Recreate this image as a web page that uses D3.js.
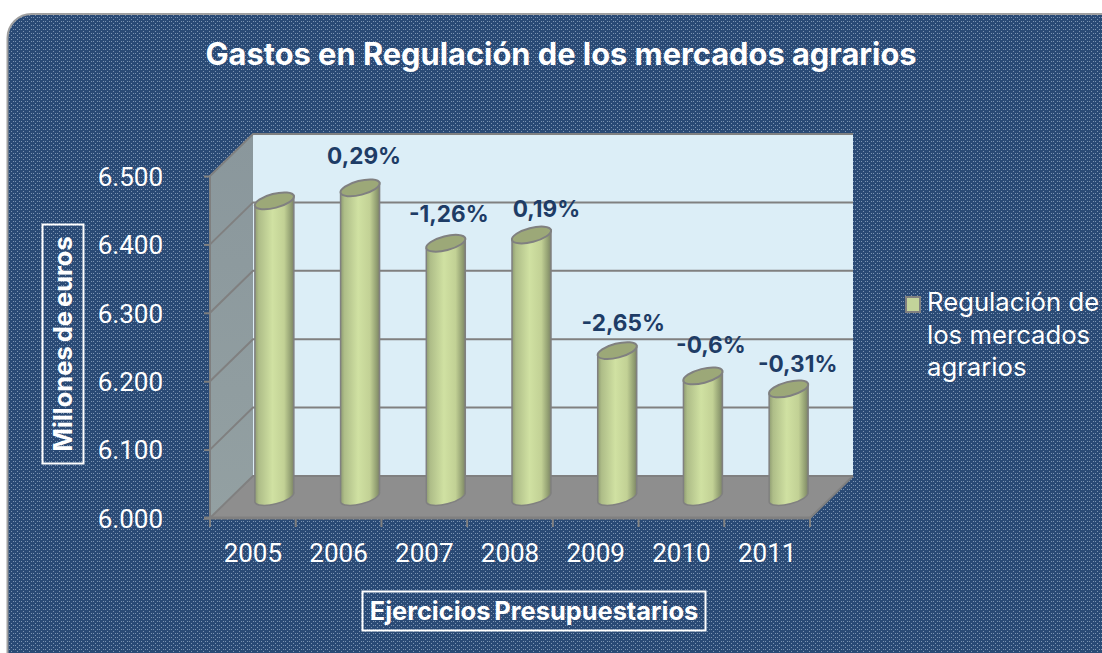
<!DOCTYPE html>
<html><head><meta charset="utf-8">
<style>html,body{margin:0;padding:0;background:#fff}svg{display:block}text{font-family:Inter,Roboto,sans-serif}.tk text{font-family:Roboto,sans-serif}</style>
<script src="https://cdn.jsdelivr.net/npm/d3@7"></script></head><body>
<svg id="c" width="1102" height="653"></svg>
<script>
const years=["2005","2006","2007","2008","2009","2010","2011"];
const values=[6433,6452,6371,6383,6214,6177,6158];
const changes=[null,"0,29%","-1,26%","0,19%","-2,65%","-0,6%","-0,31%"];
const labelOffsets=[[0,0],[4,-33],[3,-30],[15,-27],[6,-29],[8,-32],[9,-26]];
const yTicks=[6000,6100,6200,6300,6400,6500];
const chartTitle="Gastos en Regulación de los mercados agrarios";
const legendLines=["Regulación de","los mercados","agrarios"];

const svg=d3.select("#c");
const defs=svg.append("defs");
const pat=defs.append("pattern").attr("id","tex").attr("patternUnits","userSpaceOnUse").attr("width",12).attr("height",12);
pat.append("rect").attr("width",12).attr("height",12).attr("fill","#2a4a75");
[[1,1],[3,1],[7,1],[9,1],[5,3],[11,3],[1,5],[3,5],[7,5],[9,5],[5,7],[11,7],[1,9],[3,9],[7,9],[9,9],[5,11],[11,11]].forEach(p=>
 pat.append("rect").attr("x",p[0]).attr("y",p[1]).attr("width",1).attr("height",1).attr("fill","#7d95b3"));
const g=defs.append("linearGradient").attr("id","cyl");
[[0,"#8f9c72"],[.1,"#aebd88"],[.45,"#d0e1a2"],[.75,"#c2d195"],[.92,"#929f72"],[1,"#7c8268"]].forEach(s=>g.append("stop").attr("offset",s[0]).attr("stop-color",s[1]));
const wg=defs.append("linearGradient").attr("id","wall").attr("x1",0).attr("y1",0).attr("x2",0).attr("y2",1);
[[0,"#8a979c"],[1,"#93a0a2"]].forEach(s=>wg.append("stop").attr("offset",s[0]).attr("stop-color",s[1]));

svg.append("rect").attr("x",7.5).attr("y",14).attr("width",1120).attr("height",680).attr("rx",24)
  .attr("fill","url(#tex)").attr("stroke","#a0a0a0").attr("stroke-width",2);

svg.append("text").attr("x",561).attr("y",65).attr("text-anchor","middle").attr("fill","#fff")
  .attr("font-size",30.8).attr("font-weight",700).text(chartTitle);

const L=210,R=810,B=518,T=176,DX=43,DY=-42;
const x=d3.scaleBand().domain(years).range([L,R]);
const y=d3.scaleLinear().domain([6000,6500]).range([B,T]);
const poly=pts=>pts.map(p=>p.join(",")).join(" ");

svg.append("polygon").attr("points",poly([[L+DX,T+DY],[R+DX,T+DY],[R+DX,B+DY],[L+DX,B+DY]])).attr("fill","#dceef7");
svg.append("polygon").attr("points",poly([[L,T],[L+DX,T+DY],[L+DX,B+DY],[L,B]])).attr("fill","url(#wall)");
svg.append("polygon").attr("points",poly([[L,B],[L+DX,B+DY],[R+DX,B+DY],[R,B]])).attr("fill","#8e8e8e");

const grid=svg.append("g").attr("stroke","#808080").attr("stroke-width",2).attr("fill","none");
yTicks.forEach(t=>{
  grid.append("polyline").attr("points",poly([[L,y(t)],[L+DX,y(t)+DY],[R+DX,y(t)+DY]]));
});
grid.append("line").attr("x1",L).attr("x2",L).attr("y1",T).attr("y2",B);
grid.append("line").attr("x1",R).attr("x2",R+DX).attr("y1",B).attr("y2",B+DY);

const rx=19.5,tilt=5,ry=7;
const bars=svg.append("g").selectAll("g").data(years).join("g");
const cx=d=>x(d)+x.bandwidth()/2+DX/2;
const baseY=y(6000)+DY/2;
const rr=Math.hypot(rx,tilt),ang=-Math.atan2(tilt,rx)*180/Math.PI;
bars.append("path").attr("fill","url(#cyl)").attr("stroke","#808080").attr("stroke-width",1.5)
 .attr("d",(d,i)=>{const c=cx(d),t=y(values[i])+DY/2;
   return `M${c-rx},${t+tilt}L${c-rx},${baseY+tilt}A${rr},${ry} ${ang} 0 0 ${c+rx},${baseY-tilt}L${c+rx},${t-tilt}Z`;});
bars.append("ellipse").attr("fill","#9ca878").attr("stroke","#808080").attr("stroke-width",2)
 .attr("rx",rr).attr("ry",ry)
 .attr("transform",(d,i)=>`translate(${cx(d)},${y(values[i])+DY/2}) rotate(${ang})`);
svg.append("g").selectAll("text").data(years).join("text")
 .attr("x",(d,i)=>cx(d)+labelOffsets[i][0]).attr("y",(d,i)=>y(values[i])+DY/2+labelOffsets[i][1]+9)
 .attr("text-anchor","middle").attr("fill","#1e3c66").attr("font-size",22.6).attr("font-weight",700)
 .text((d,i)=>changes[i]);

const yAxis=d3.axisLeft(y).tickValues(yTicks).tickSize(6).tickPadding(41).tickFormat(d=>d3.format(",")(d).replace(",","."));
const ya=svg.append("g").attr("class","tk").attr("transform",`translate(${L},0)`).call(yAxis);
ya.select(".domain").remove();
ya.selectAll("line").attr("stroke","#808080").attr("stroke-width",2);
ya.selectAll("text").attr("fill","#fff").attr("font-size",26).attr("y",1);

const xAxis=d3.axisBottom(x).tickSize(0).tickPadding(26);
const xa=svg.append("g").attr("class","tk").attr("transform",`translate(0,${B})`).call(xAxis);
xa.select(".domain").remove();
xa.selectAll("text").attr("fill","#fff").attr("font-size",26);
const edges=years.map(d=>x(d)).concat([R]);
svg.append("g").selectAll("line").data(edges).join("line").attr("x1",d=>d).attr("x2",d=>d).attr("y1",B).attr("y2",B+9).attr("stroke","#808080").attr("stroke-width",2);
svg.append("line").attr("x1",L-6).attr("x2",R).attr("y1",B).attr("y2",B).attr("stroke","#808080").attr("stroke-width",3);

svg.append("rect").attr("x",42.5).attr("y",224.5).attr("width",41).attr("height",239).attr("fill","none").attr("stroke","#fff").attr("stroke-width",2);
svg.append("text").attr("transform","translate(72,344) rotate(-90)").attr("text-anchor","middle").attr("fill","#fff")
  .attr("font-size",25.5).attr("font-weight",700).attr("word-spacing",-2).text("Millones de euros");
svg.append("rect").attr("x",362.5).attr("y",591.5).attr("width",343).attr("height",39).attr("fill","none").attr("stroke","#fff").attr("stroke-width",2);
svg.append("text").attr("x",534).attr("y",620).attr("text-anchor","middle").attr("fill","#fff")
  .attr("font-size",25.4).attr("font-weight",700).attr("word-spacing",-2).text("Ejercicios Presupuestarios");

svg.append("rect").attr("x",906).attr("y",297).attr("width",14).attr("height",15).attr("fill","#c3d39a").attr("stroke","#808080").attr("stroke-width",2);
svg.append("g").selectAll("text").data(legendLines).join("text").attr("x",927).attr("y",(d,i)=>311+i*32.5)
  .attr("fill","#fff").attr("font-size",25.7).text(d=>d);
</script></body></html>
